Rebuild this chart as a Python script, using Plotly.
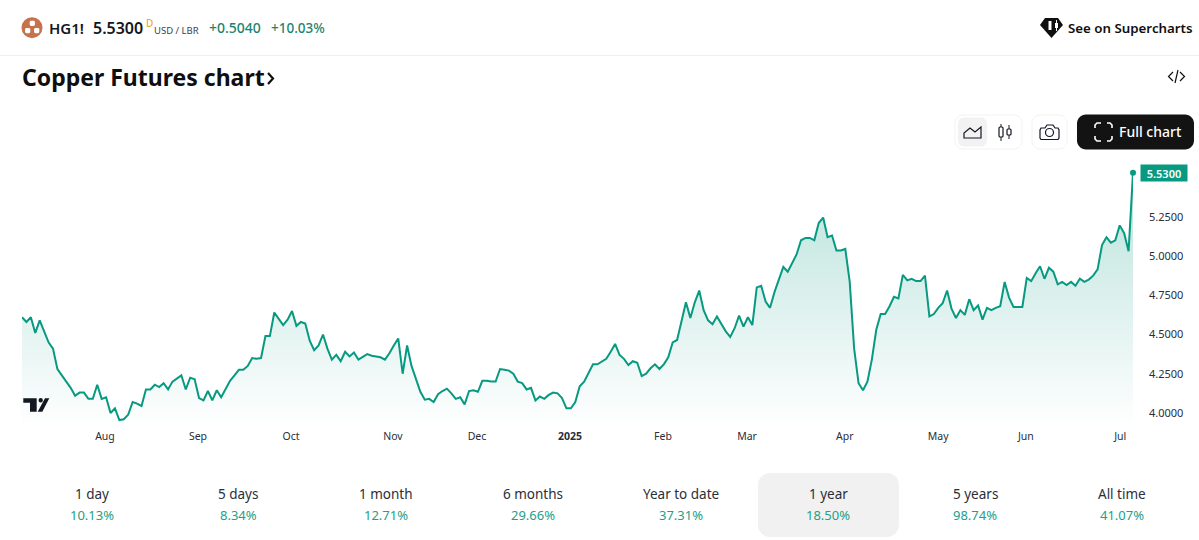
import plotly.graph_objects as go

# ---------- data ----------
prices = [
 4.61,4.58,4.61,4.51,4.59,4.52,4.45,4.41,4.28,4.24,4.20,4.16,4.11,4.13,4.13,4.09,4.09,4.18,4.09,4.10,
 4.00,4.03,3.955,3.96,3.99,4.07,4.06,4.045,4.15,4.15,4.18,4.165,4.19,4.15,4.20,4.22,4.24,4.15,4.225,4.215,
 4.095,4.08,4.14,4.08,4.145,4.10,4.15,4.205,4.24,4.275,4.275,4.30,4.35,4.345,4.35,4.49,4.49,4.64,4.60,4.56,
 4.595,4.65,4.555,
 4.58,4.57,4.46,4.40,4.43,4.50,4.41,4.34,4.37,4.33,4.39,4.36,4.385,4.34,4.355,4.375,4.365,4.36,4.355,4.34,
 4.38,4.43,4.475,4.25,4.43,4.30,4.22,4.135,4.085,4.09,4.07,4.12,4.14,4.155,4.125,4.09,4.10,4.055,4.14,4.145,
 4.135,4.205,4.205,4.20,4.20,4.28,4.275,4.27,4.25,4.20,4.19,4.15,4.16,4.08,4.105,4.09,4.115,4.13,4.125,4.095,
 4.03,4.03,4.07,4.17,
 4.20,4.255,4.31,4.31,4.325,4.345,4.39,4.44,4.37,4.345,4.305,4.33,4.32,4.235,4.25,4.285,4.31,4.28,4.31,4.355,
 4.45,4.465,4.585,4.705,4.605,4.705,4.78,4.655,4.59,4.565,4.615,4.565,4.52,4.485,4.54,4.62,4.55,4.61,4.56,4.80,
 4.81,4.71,4.67,4.77,4.855,4.93,4.90,4.96,5.01,5.10,5.115,5.115,5.10,5.21,5.245,5.12,5.13,5.035,5.035,5.045,
 4.835,4.41,4.19,4.145,4.20,4.34,4.53,4.63,4.63,4.68,4.74,4.73,4.88,4.845,4.855,4.84,4.84,4.875,4.615,4.63,
 4.67,4.70,4.78,4.665,4.605,4.655,4.625,4.725,4.655,4.685,4.595,4.67,4.655,4.67,4.68,4.835,4.735,4.675,4.675,4.675,
 4.86,4.84,4.89,4.935,4.855,4.925,4.90,4.82,4.835,4.815,4.835,4.81,4.855,4.835,4.85,4.875,4.915,5.07,5.12,5.085,
 5.10,5.195,5.145,5.03,5.53,
]
month_labels = ["Aug","Sep","Oct","Nov","Dec","<b>2025</b>","Feb","Mar","Apr","May","Jun","Jul"]
month_positions = [18.75,39.76,60.77,83.8,102.8,123.8,144.8,163.8,185.9,207,226.8,248.1]
price_ticks = [4.0,4.25,4.5,4.75,5.0,5.25]
tab_names = ["1 day","5 days","1 month","6 months","Year to date","1 year","5 years","All time"]
tab_changes = ["10.13%","8.34%","12.71%","29.66%","37.31%","18.50%","98.74%","41.07%"]
tab_centres = [92,238,386,533,681,828,975,1122]

# ---------- layout constants ----------
W, H = 1199, 540
L, R, T, B = 22, 1133, 160, 425
GREEN = "#089981"
FONT = "Noto Sans"
DARK = "#131722"
px_per_unit = 157.0
y_lo = 4 - (B-413)/px_per_unit
y_hi = 4 + (413-T)/px_per_unit

def X(p): return (p-L)/(R-L)
def Y(p): return (B-p)/(B-T)

def path(points, close=True):
    s = "M " + " L ".join(f"{X(a):.5f},{Y(b):.5f}" for a,b in points)
    return s + (" Z" if close else "")

def rrect(x0,y0,x1,y1,r):
    k = r*0.45
    c = lambda a,b: f"{X(a):.5f},{Y(b):.5f}"
    return (f"M {c(x0+r,y0)} L {c(x1-r,y0)} C {c(x1-k,y0)} {c(x1,y0+k)} {c(x1,y0+r)} "
            f"L {c(x1,y1-r)} C {c(x1,y1-k)} {c(x1-k,y1)} {c(x1-r,y1)} "
            f"L {c(x0+r,y1)} C {c(x0+k,y1)} {c(x0,y1-k)} {c(x0,y1-r)} "
            f"L {c(x0,y0+r)} C {c(x0,y0+k)} {c(x0+k,y0)} {c(x0+r,y0)} Z")

shapes, annos = [], []
def shp(p, fill=None, line=None, lw=0, layer="above"):
    shapes.append(dict(type="path", xref="paper", yref="paper", path=p, fillcolor=fill or "rgba(0,0,0,0)",
                       line=dict(color=line or "rgba(0,0,0,0)", width=lw), layer=layer))
def txt(x,y,s,size,color=DARK,anchor="left",weight=None):
    annos.append(dict(xref="paper",yref="paper",x=X(x),y=Y(y),text=s,showarrow=False,xanchor=anchor,yanchor="middle",
                      font=dict(family=FONT,size=size,color=color,weight=weight),borderpad=0,borderwidth=0))
def circ(cx,cy,r,fill=None,line=None,lw=0):
    shapes.append(dict(type="circle",xref="paper",yref="paper",x0=X(cx-r),x1=X(cx+r),y0=Y(cy+r),y1=Y(cy-r),
                       fillcolor=fill or "rgba(0,0,0,0)",line=dict(color=line or "rgba(0,0,0,0)",width=lw)))

# header
circ(32,27.7,10.5,fill="#c8724b")
shp(rrect(29.7,20.8,34.9,26,1.4),fill="white")
shp(rrect(25.1,28,30.3,33.2,1.4),fill="white")
shp(rrect(34.1,28,39.3,33.2,1.4),fill="white")
txt(49,27.5,"HG1!",15,DARK,weight=600)
txt(93,27.5,"5.5300",16,DARK,weight=600)
txt(146,23,"D",10,"#f0a830",weight=500)
txt(154,30,"USD / LBR",9.5,"#3c4250")
txt(209,27.5,"+0.5040",14,"#1a8570",weight=500)
txt(271,27.5,"+10.03%",13.5,"#1a8570",weight=500)
shp(path([(0,55.5),(W,55.5)],False),line="#f0f0f0",lw=1)
txt(22,77,"Copper Futures chart",23,"#0f0f0f",weight=700)
shp(path([(268,73),(273,78.5),(268,84)],False),line="#0f0f0f",lw=2.2)

# supercharts
shp(path([(1045,18),(1058,18),(1063,25),(1051.5,38),(1040,25)]),fill="#0f0f0f")
shp(path([(1048.5,21),(1051.5,21),(1051.5,30),(1048.5,30)]),fill="white")
shp(path([(1055,23),(1058,23),(1058,28),(1055,28)]),fill="white")
shp(path([(1056.5,20),(1056.5,31)],False),line="white",lw=1)
txt(1068,27.5,"See on Supercharts",13.3,"#0f0f0f",weight=600)

# embed icon
shp(path([(1173,72),(1168.5,76.5),(1173,81)],False),line="#0f0f0f",lw=1.2)
shp(path([(1180,72),(1184.5,76.5),(1180,81)],False),line="#0f0f0f",lw=1.2)
shp(path([(1178,70),(1175,83)],False),line="#0f0f0f",lw=1.2)

# buttons
shp(rrect(955,115,1022,149,8),fill="white",line="#f3f3f3",lw=1)
shp(rrect(958,117.5,987,146.5,6),fill="#f2f2f2")
shp(path([(964,138),(964,133),(970,128),(975,132),(981,127),(981,138)]),line="#131722",lw=1.2)
shp(path([(1001,124),(1001,141)],False),line="#131722",lw=1)
shp(rrect(999,127,1003,137,1),fill="white",line="#131722",lw=1.2)
shp(path([(1009,125),(1009,139)],False),line="#131722",lw=1)
shp(rrect(1007,129,1011,135,1),fill="white",line="#131722",lw=1.2)
shp(rrect(1032,115,1067,149,8),fill="white",line="#f3f3f3",lw=1)
shp(path([(1041,128),(1045,128),(1047,125),(1053,125),(1055,128),(1058,128),(1059,130),(1059,138),(1058,139.5),(1041,139.5),(1040,138),(1040,130)]),line="#131722",lw=1.2)
circ(1049.5,132.5,4,line="#131722",lw=1.2)
shp(rrect(1077,114.5,1194,149.5,9),fill="#131313")
for pts in ([(1095,128),(1095,125),(1097,123),(1101,123)],[(1107,123),(1110,123),(1112,125),(1112,128)],
            [(1095,136),(1095,139),(1097,141),(1101,141)],[(1107,141),(1110,141),(1112,139),(1112,136)]):
    shp(path(pts,False),line="white",lw=1.6)
txt(1119,131.5,"Full chart",14,"white",weight=500)

# TradingView mark
shp(path([(23.3,398.3),(36.7,398.3),(36.7,411.7),(30,411.7),(30,402.7),(23.3,402.7)]),fill="#131722")
circ(40.7,400.3,2.2,fill="#131722")
shp(path([(37.7,411.7),(45,398.3),(49.3,398.3),(42.3,411.7)]),fill="#131722")

# tabs
shp(rrect(758,473,899,537,12),fill="#f1f1f1",layer="below")
for c,n,v in zip(tab_centres,tab_names,tab_changes):
    txt(c,494,n,13.5,"#2a2e39",anchor="center")
    txt(c,514.5,v,13,"#22a08a",anchor="center")

# last-price tag
annos.append(dict(xref="paper",yref="y",x=X(1164),y=prices[-1],text="5.5300",showarrow=False,
                  xanchor="center",yanchor="middle",width=46,height=16,bgcolor=GREEN,borderpad=0,
                  font=dict(family=FONT,size=11,color="white",weight=600)))

idx = list(range(len(prices)))
fig = go.Figure()
fig.add_trace(go.Scatter(x=idx,y=prices,mode="lines",fill="tozeroy",
    line=dict(color=GREEN,width=2,shape="linear"),
    fillgradient=dict(type="vertical",start=3.9,stop=5.53,
        colorscale=[[0,"rgba(8,153,129,0.0)"],[1,"rgba(8,153,129,0.28)"]]),
    hoverinfo="skip",showlegend=False))
fig.add_trace(go.Scatter(x=idx[-1:],y=prices[-1:],mode="markers",marker=dict(color=GREEN,size=6),
    hoverinfo="skip",showlegend=False,cliponaxis=False))

fig.update_layout(width=W,height=H,autosize=False,margin=dict(l=L,r=W-R,t=T,b=H-B,pad=0,autoexpand=False),
    paper_bgcolor="white",plot_bgcolor="white",shapes=shapes,annotations=annos,showlegend=False,
    font=dict(family=FONT,color="#2a2e39",size=10.5),
    xaxis=dict(range=[0,len(prices)-1],tickmode="array",tickvals=month_positions,ticktext=month_labels,
               showgrid=False,zeroline=False,showline=False,ticks="",tickfont=dict(size=10.5,color="#2a2e39"),ticklabelstandoff=3),
    yaxis=dict(range=[y_lo,y_hi],side="right",tickmode="array",tickvals=price_ticks,tickformat=".4f",
               showgrid=False,zeroline=False,showline=False,ticks="",tickfont=dict(size=11,color="#2a2e39"),ticklabelstandoff=15))
fig.write_html("out.html",config=dict(displayModeBar=False,staticPlot=True),
               post_script="document.body.style.margin='0';document.body.style.overflow='hidden';")
